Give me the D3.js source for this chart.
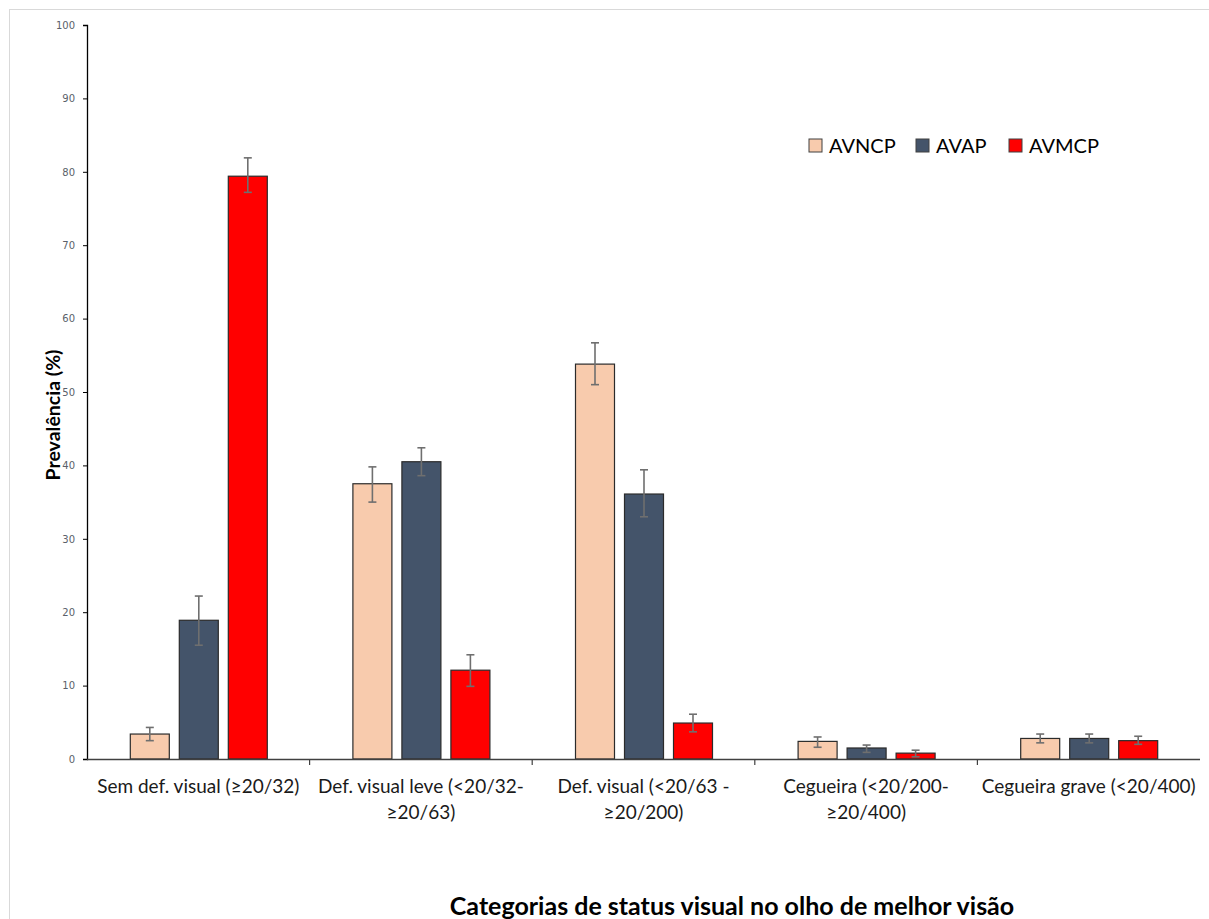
<!DOCTYPE html>
<html>
<head>
<meta charset="utf-8">
<script src="https://cdn.jsdelivr.net/npm/d3@7"></script>
<style>
  html, body { margin: 0; padding: 0; background: #fff; }
  svg { display: block; }
</style>
</head>
<body>
<svg id="chart" width="1209" height="919"></svg>
<script>
// Visual status categories (better-seeing eye)
const categories = [
  ["Sem def. visual (≥20/32)"],
  ["Def. visual leve (<20/32-", "≥20/63)"],
  ["Def. visual (<20/63 -", "≥20/200)"],
  ["Cegueira (<20/200-", "≥20/400)"],
  ["Cegueira grave (<20/400)"]
];
const seriesNames = ["AVNCP", "AVAP", "AVMCP"];
const seriesColors = ["#F8CBAD", "#44546A", "#FF0000"];

// Prevalence (%) and confidence interval bounds per series
const avncp     = [3.4, 37.5, 53.8, 2.4, 2.8];
const avncpLow  = [2.5, 35.0, 51.0, 1.6, 2.2];
const avncpHigh = [4.3, 39.8, 56.7, 3.0, 3.4];

const avap      = [18.9, 40.5, 36.1, 1.5, 2.8];
const avapLow   = [15.5, 38.6, 33.0, 0.9, 2.2];
const avapHigh  = [22.2, 42.4, 39.4, 1.9, 3.4];

const avmcp     = [79.4, 12.1, 4.9, 0.8, 2.5];
const avmcpLow  = [77.2, 9.9, 3.7, 0.3, 2.0];
const avmcpHigh = [81.9, 14.2, 6.1, 1.2, 3.1];

const yTicks = [0, 10, 20, 30, 40, 50, 60, 70, 80, 90, 100];

const values = [avncp, avap, avmcp];
const lows = [avncpLow, avapLow, avmcpLow];
const highs = [avncpHigh, avapHigh, avmcpHigh];

const svg = d3.select("#chart");

// outer frame
svg.append("rect")
  .attr("x", 9.5).attr("y", 9.5)
  .attr("width", 1220).attr("height", 930)
  .attr("fill", "#fff").attr("stroke", "#d9d9d9").attr("stroke-width", 1);

const plot = { left: 87, right: 1200, top: 25, bottom: 759 };

const x0 = d3.scaleBand()
  .domain(d3.range(categories.length))
  .range([plot.left, plot.right])
  .paddingInner(0).paddingOuter(0);

// three bars per group: 39px wide, 10px apart
const groupW = 137;
const x1 = d3.scaleBand()
  .domain(d3.range(seriesNames.length))
  .range([0, groupW])
  .paddingInner(10 / 49).paddingOuter(0);

const y = d3.scaleLinear().domain([0, 100]).range([plot.bottom, plot.top]);

// y axis
const yAxis = svg.append("g")
  .attr("transform", `translate(${plot.left},0)`)
  .call(d3.axisLeft(y).tickValues(yTicks).tickSize(4).tickPadding(8).tickFormat(d3.format("d")));
yAxis.select(".domain").attr("stroke", "#000").attr("stroke-width", 1.3);
yAxis.selectAll(".tick line").attr("stroke", "#000");
yAxis.selectAll(".tick text")
  .attr("font-family", "'DejaVu Sans', sans-serif")
  .attr("font-size", 10)
  .attr("fill", "#5a5f6a");

// bars
const groups = svg.append("g").selectAll("g")
  .data(categories.map((c, i) => i))
  .join("g")
  .attr("transform", i => `translate(${x0(i) + (x0.bandwidth() - groupW) / 2},0)`);

groups.each(function(ci) {
  const g = d3.select(this);
  seriesNames.forEach((s, si) => {
    const v = values[si][ci];
    const bx = x1(si);
    g.append("rect")
      .attr("x", bx + 0.5)
      .attr("y", y(v))
      .attr("width", x1.bandwidth())
      .attr("height", y(0) - y(v))
      .attr("fill", seriesColors[si])
      .attr("stroke", "#2b2b2b")
      .attr("stroke-width", 1.2);
    const cx = bx + x1.bandwidth() / 2 + 0.5;
    const lo = y(lows[si][ci]), hi = y(highs[si][ci]);
    g.append("line")
      .attr("x1", cx).attr("x2", cx).attr("y1", lo).attr("y2", hi)
      .attr("stroke", "#6f6f6f").attr("stroke-width", 1.6);
    [lo, hi].forEach(yy => {
      g.append("line")
        .attr("x1", cx - 4).attr("x2", cx + 4).attr("y1", yy).attr("y2", yy)
        .attr("stroke", "#6f6f6f").attr("stroke-width", 1.6);
    });
  });
});

// x axis
svg.append("line")
  .attr("x1", plot.left).attr("x2", plot.right)
  .attr("y1", plot.bottom + 0.5).attr("y2", plot.bottom + 0.5)
  .attr("stroke", "#404040").attr("stroke-width", 1.3);
const bounds = d3.range(1, categories.length).map(i => x0(i));
svg.append("g").selectAll("line")
  .data(bounds)
  .join("line")
  .attr("x1", d => d).attr("x2", d => d)
  .attr("y1", plot.bottom).attr("y2", plot.bottom + 6)
  .attr("stroke", "#404040").attr("stroke-width", 1.2);

// category labels
const lab = svg.append("g").selectAll("text")
  .data(categories)
  .join("text")
  .attr("x", (d, i) => x0(i) + x0.bandwidth() / 2)
  .attr("y", 793)
  .attr("text-anchor", "middle")
  .attr("font-family", "Lato, sans-serif")
  .attr("font-size", 19)
  .attr("fill", "#1a1a1a");
lab.each(function(lines) {
  const t = d3.select(this);
  const cx = +t.attr("x");
  lines.forEach((ln, k) => {
    t.append("tspan").attr("x", cx).attr("dy", k === 0 ? 0 : 26).text(ln);
  });
});

// y axis title
svg.append("text")
  .attr("transform", "translate(60,415) rotate(-90)")
  .attr("text-anchor", "middle")
  .attr("font-family", "Lato, sans-serif")
  .attr("font-weight", 700)
  .attr("font-size", 19.5)
  .attr("fill", "#000")
  .text("Prevalência (%)");

// x axis title
svg.append("text")
  .attr("x", 732)
  .attr("y", 915)
  .attr("text-anchor", "middle")
  .attr("font-family", "Lato, sans-serif")
  .attr("font-weight", 700)
  .attr("font-size", 25)
  .attr("fill", "#000")
  .text("Categorias de status visual no olho de melhor  visão");

// legend
const legendX = [809, 916, 1009];
const leg = svg.append("g").selectAll("g")
  .data(seriesNames)
  .join("g")
  .attr("transform", (d, i) => `translate(${legendX[i]},139)`);
leg.append("rect")
  .attr("width", 13).attr("height", 13)
  .attr("fill", (d, i) => seriesColors[i])
  .attr("stroke", "#404040").attr("stroke-width", 1);
leg.append("text")
  .attr("x", 20).attr("y", 14)
  .attr("font-family", "Lato, sans-serif")
  .attr("font-size", 20)
  .attr("fill", "#000")
  .text(d => d);
</script>
</body>
</html>
